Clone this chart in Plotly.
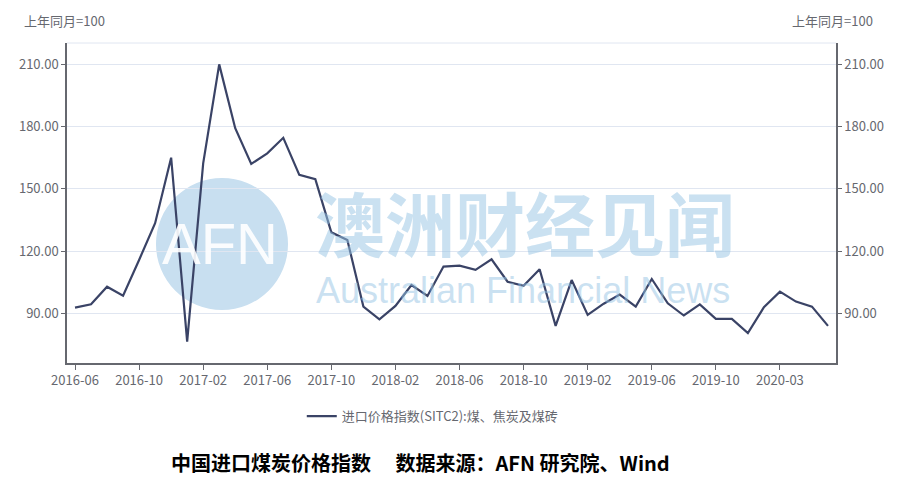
import plotly.graph_objects as go

# ---- data ----
months = []
for y in range(2016, 2021):
    for m in range(1, 13):
        months.append(f"{y}-{m:02d}")
categories = [c for c in months if "2016-06" <= c <= "2020-06" and c != "2020-01"]

values = [92.7, 94.3, 102.8, 98.5, 115.7, 133.4, 165.0, 76.3, 162.3, 210.0,
          179.2, 162.0, 167.1, 174.6, 156.7, 154.6, 129.0, 125.3, 93.2, 87.1,
          93.5, 103.6, 98.3, 112.5, 112.9, 110.9, 116.0, 105.2, 103.2, 111.2,
          83.9, 106.0, 89.2, 94.6, 99.0, 93.2, 106.5, 94.8, 88.9, 94.3,
          87.3, 87.3, 80.4, 92.9, 100.4, 95.6, 93.2, 83.9]

series_name = "进口价格指数(SITC2):煤、焦炭及煤砖"
y_ticks = [90, 120, 150, 180, 210]
y_tick_text = ["90.00", "120.00", "150.00", "180.00", "210.00"]
x_ticks = categories[::4]
unit_label = "上年同月=100"
caption = "中国进口煤炭价格指数\u3000 数据来源：AFN 研究院、Wind"

FONT = "Noto Sans CJK SC, Noto Sans, sans-serif"
AXIS_GRAY = "#66686f"
GRID = "#E0E6F1"
LINE = "#3a4366"

fig = go.Figure()
fig.add_trace(go.Scatter(x=categories, y=values, mode="lines", name=series_name,
                         line=dict(color=LINE, width=2.2), yaxis="y"))
fig.add_trace(go.Scatter(x=categories, y=values, mode="lines", showlegend=False,
                         line=dict(color="rgba(0,0,0,0)", width=0), hoverinfo="skip",
                         yaxis="y2"))

yr = [66, 220.3]
fig.update_layout(
    width=902, height=498,
    margin=dict(l=67, r=66, t=43, b=135),
    paper_bgcolor="white", plot_bgcolor="white",
    font=dict(family=FONT, size=13, color=AXIS_GRAY),
    xaxis=dict(type="category", categoryorder="array", categoryarray=categories,
               range=[-0.5, len(categories) - 0.5],
               tickmode="array", tickvals=x_ticks, ticktext=x_ticks,
               showgrid=False, showline=True, linecolor=AXIS_GRAY, linewidth=1.5,
               ticks="outside", ticklen=5, tickcolor=AXIS_GRAY, tickwidth=1,
               tickfont=dict(size=13, color=AXIS_GRAY), zeroline=False),
    yaxis=dict(range=yr, tickmode="array", tickvals=y_ticks, ticktext=y_tick_text,
               showgrid=True, gridcolor=GRID, gridwidth=1,
               showline=True, linecolor=AXIS_GRAY, linewidth=1.5,
               ticks="outside", ticklen=4, tickcolor=AXIS_GRAY,
               tickfont=dict(size=13, color=AXIS_GRAY), zeroline=False),
    yaxis2=dict(range=yr, overlaying="y", side="right", tickmode="array",
                tickvals=y_ticks, ticktext=y_tick_text, showgrid=False,
                showline=True, linecolor=AXIS_GRAY, linewidth=1.5,
                ticks="outside", ticklen=4, tickcolor=AXIS_GRAY,
                tickfont=dict(size=13, color=AXIS_GRAY), zeroline=False),
    showlegend=True,
    legend=dict(orientation="h", x=0.475, xanchor="center", y=-0.166, yanchor="middle",
                font=dict(size=13, color=AXIS_GRAY), bgcolor="rgba(0,0,0,0)"),
    hovermode=False,
)

# top border line of the grid
fig.add_shape(type="line", xref="paper", yref="paper", x0=0, x1=1, y0=1, y1=1,
              line=dict(color=GRID, width=1), layer="below")

# watermark circle
fig.add_shape(type="circle", xref="paper", yref="paper",
              x0=0.1157, x1=0.2874, y0=0.1656, y1=0.578,
              fillcolor="#c8dff0", line=dict(width=0), layer="below")

annotations = [
    dict(text="AFN", x=0.199, y=0.372, font=dict(family="Liberation Sans", size=58,
         color="rgba(255,255,255,0.9)")),
    dict(text="<b>澳洲财经见闻</b>", x=0.5956, y=0.442, font=dict(family=FONT, size=70,
         color="rgba(150,195,228,0.5)")),
    dict(text="Australian Financial News", x=0.593, y=0.226,
         font=dict(family="Liberation Sans", size=36, color="rgba(150,195,228,0.5)")),
    dict(text=unit_label, x=(107 - 67) / 769, y=(363 - 20) / 320, xanchor="right",
         font=dict(family=FONT, size=13, color=AXIS_GRAY)),
    dict(text=unit_label, x=(875 - 67) / 769, y=(363 - 20) / 320, xanchor="right",
         font=dict(family=FONT, size=13, color=AXIS_GRAY)),
    dict(text="<b>" + caption + "</b>", x=(420 - 67) / 769, y=(363 - 462) / 320,
         font=dict(family=FONT, size=20, color="black")),
]
for a in annotations:
    a.setdefault("xanchor", "center")
    fig.add_annotation(xref="paper", yref="paper", showarrow=False, yanchor="middle", **a)

fig.write_html("out.html", config={"displayModeBar": False},
               post_script="document.body.style.margin='0';")
